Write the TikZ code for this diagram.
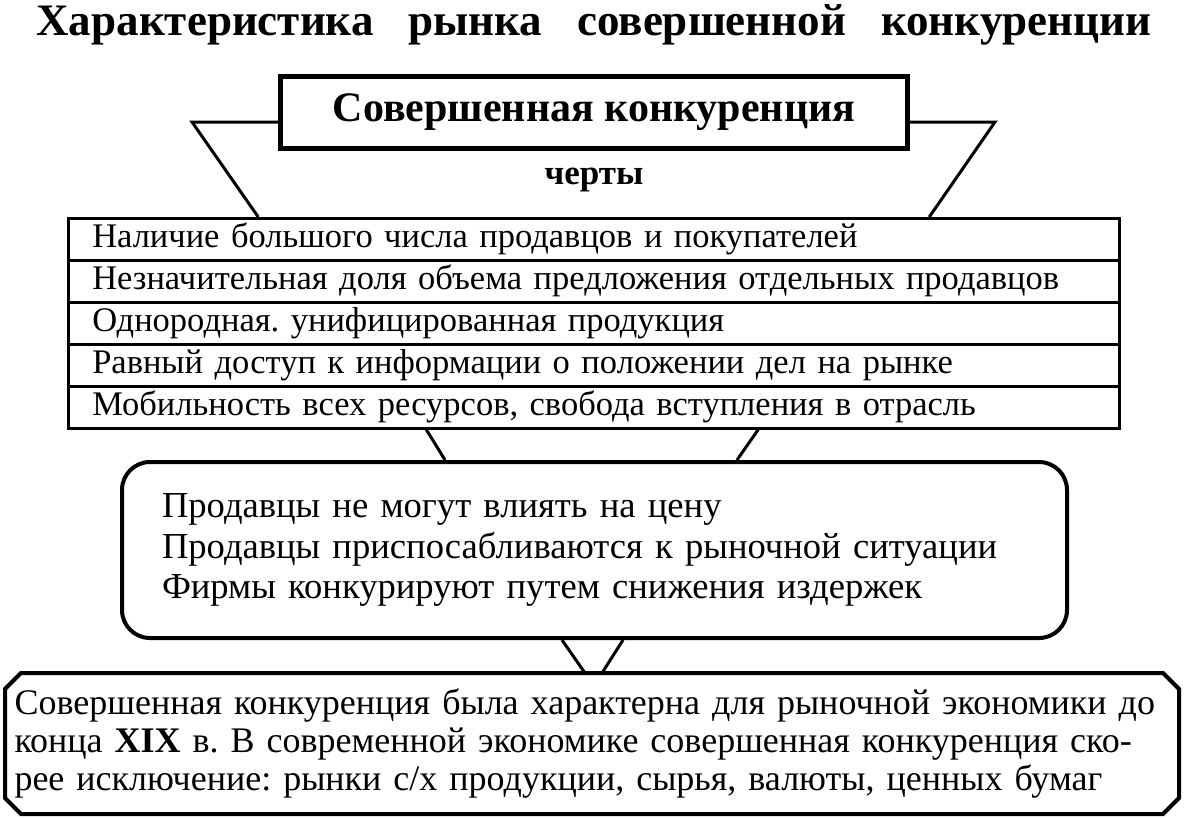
\documentclass[tikz,border=0pt]{standalone}
\usepackage{fontspec}
\setmainfont{Liberation Serif}
\usetikzlibrary{calc,positioning}
\frenchspacing
\tikzset{
  titletext/.style={inner sep=0pt, anchor=base, font=\fontsize{45}{50}\selectfont\bfseries},
  headbox/.style={draw, line width=5pt, minimum width=627pt, minimum height=72pt,
    font=\fontsize{42}{46}\selectfont\bfseries},
  headnote/.style={inner sep=0pt, font=\fontsize{35}{38}\selectfont\bfseries},
  row/.style={draw, line width=2.5pt, anchor=north west, minimum height=42pt,
    inner xsep=24pt, inner ysep=1pt, text width=1003pt, align=left,
    font=\fontsize{34.5}{38}\selectfont},
  effectbox/.style={draw, line width=4pt, rounded corners=28pt, minimum width=945pt,
    minimum height=176pt, inner xsep=40pt, text width=865pt, align=left,
    font=\fontsize{36.6}{40.5}\selectfont},
  summarybox/.style={outer sep=0pt, minimum width=1174pt, minimum height=141pt,
    inner xsep=9.5pt, inner ysep=0pt, text width=1155pt, align=left,
    font=\fontsize{36}{38}\selectfont},
  frame/.style={draw, line width=4pt, line join=miter},
  link/.style={draw, line width=3pt}
}

\begin{document}
\begin{tikzpicture}[x=1pt,y=-1pt]
  \useasboundingbox (0,0) rectangle (1186,819);
  % заголовок
  \node[titletext] (title) at (594,35)
    {\makebox[1115pt][s]{Характеристика рынка совершенной конкуренции}};
  \node[headbox] (head) at (594,112.5) {Совершенная конкуренция};
  \node[headnote] (traits) at (594,180) {черты};
  % таблица черт
  \foreach \txt [count=\i] in {
      {Наличие большого числа продавцов и покупателей},
      {Незначительная доля объема предложения отдельных продавцов},
      {Однородная. унифицированная продукция},
      {Равный доступ к информации о положении дел на рынке},
      {Мобильность всех ресурсов, свобода вступления в отрасль}}
    \node[row] (r\i) at (67,{217+42*(\i-1)}) {\txt};
  \node[effectbox] (effect) at (594.5,550)
    {Продавцы не могут влиять на цену\\
     Продавцы приспосабливаются к рыночной ситуации\\
     Фирмы конкурируют путем снижения издержек};
  \node[summarybox] (summary) at (592,743.5)
    {\makebox[1155pt][s]{Совершенная конкуренция была характерна для рыночной экономики до}\\
     \makebox[1155pt][s]{конца {\bfseries XIX} в. В современной экономике совершенная конкуренция ско-}\\
     рее исключение: рынки с/х продукции, сырья, валюты, ценных бумаг};
  % рамка со срезанными углами
  \draw[frame] ($(summary.north west)+(16,0)$) -- ($(summary.north east)+(-16,0)$)
    -- ($(summary.north east)+(0,16)$) -- ($(summary.south east)+(0,-16)$)
    -- ($(summary.south east)+(-16,0)$) -- ($(summary.south west)+(16,0)$)
    -- ($(summary.south west)+(0,-16)$) -- ($(summary.north west)+(0,16)$) -- cycle;
  % связи
  \coordinate (hl) at (192,122);
  \coordinate (hr) at (995,122);
  \draw[link] (hl -| head.west) -- (hl) -- ($(r1.north)+(-335.5,0)$);
  \draw[link] (hr -| head.east) -- (hr) -- ($(r1.north)+(335.5,0)$);
  \draw[link] ($(r5.south)+(-167.5,0)$) -- ($(effect.north)+(-149.5,0)$);
  \draw[link] ($(r5.south)+(164.5,0)$) -- ($(effect.north)+(142.5,0)$);
  \draw[link] ($(effect.south)+(-32.5,0)$) -- ($(summary.north)+(-7,0)$);
  \draw[link] ($(effect.south)+(28.5,0)$) -- ($(summary.north)+(10,0)$);
\end{tikzpicture}
\end{document}
